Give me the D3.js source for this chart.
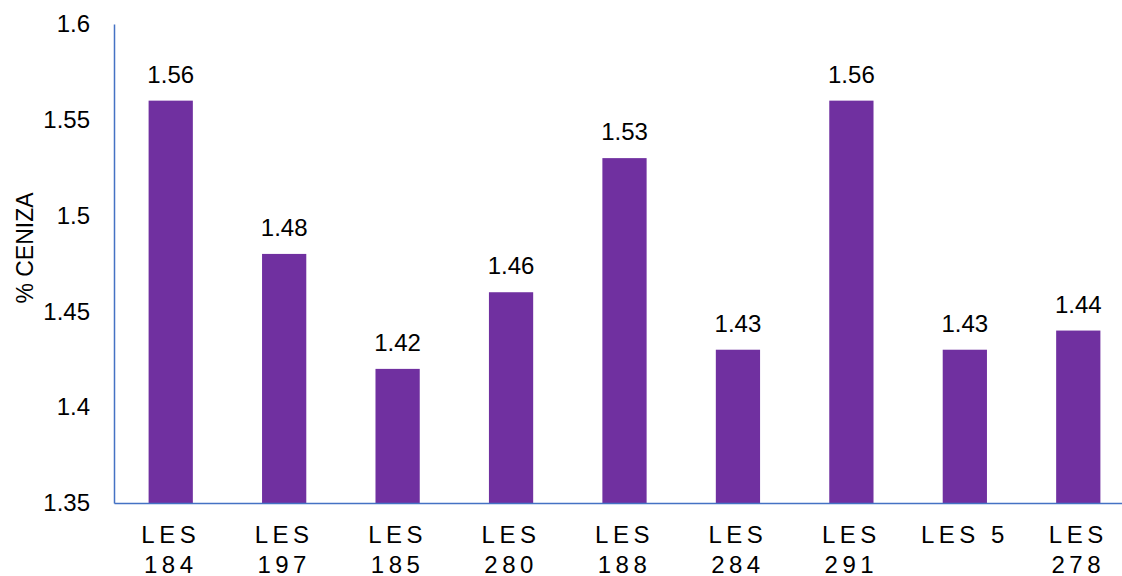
<!DOCTYPE html>
<html>
<head>
<meta charset="utf-8">
<script src="https://cdn.jsdelivr.net/npm/d3@7"></script>
<style>
  html, body { margin: 0; padding: 0; background: #fff; }
  svg { display: block; font-family: "Liberation Sans", Arial, sans-serif; }
</style>
</head>
<body>
<svg id="chart" width="1122" height="576"></svg>
<script>
// Ash content per line
const categories = ["LES 184", "LES 197", "LES 185", "LES 280", "LES 188", "LES 284", "LES 291", "LES 5", "LES 278"];
const ashValues = [1.56, 1.48, 1.42, 1.46, 1.53, 1.43, 1.56, 1.43, 1.44];
const yTicks = [1.35, 1.4, 1.45, 1.5, 1.55, 1.6];
const yTitle = "% CENIZA";

const FONT = "Liberation Sans, Arial, sans-serif";
const svg = d3.select("#chart");
const margin = { top: 24, right: -13, bottom: 73, left: 114 };
const width = 1122 - margin.left - margin.right;
const height = 576 - margin.top - margin.bottom;

const g = svg.append("g").attr("transform", `translate(${margin.left},${margin.top})`);

const x = d3.scaleBand().domain(categories).range([0, width]).paddingInner(0.61).paddingOuter(0.305);
const y = d3.scaleLinear().domain([1.35, 1.6]).range([height, 0]);

// Bars
g.selectAll("rect.bar")
  .data(categories)
  .join("rect")
  .attr("class", "bar")
  .attr("x", d => x(d))
  .attr("width", x.bandwidth())
  .attr("y", (d, i) => y(ashValues[i]))
  .attr("height", (d, i) => y(1.35) - y(ashValues[i]))
  .attr("fill", "#7030a0");

// Value labels
g.selectAll("text.val")
  .data(categories)
  .join("text")
  .attr("class", "val")
  .attr("x", d => x(d) + x.bandwidth() / 2)
  .attr("y", (d, i) => y(ashValues[i]) - 18)
  .attr("text-anchor", "middle")
  .attr("font-size", 24)
  .attr("font-family", FONT)
  .attr("fill", "#000")
  .text((d, i) => ashValues[i].toFixed(2));

// Y axis
const yAxis = g.append("g")
  .call(d3.axisLeft(y).tickValues(yTicks).tickSize(0).tickPadding(24)
    .tickFormat(d => String(+d.toFixed(2))));
yAxis.select(".domain").attr("stroke", "#4472c4").attr("stroke-width", 1.5);
yAxis.selectAll("text").attr("font-size", 24).attr("fill", "#000").attr("font-family", FONT);

// X axis
const xAxis = g.append("g")
  .attr("transform", `translate(0,${height})`)
  .call(d3.axisBottom(x).tickSize(0).tickPadding(0));
xAxis.select(".domain").attr("stroke", "#4472c4").attr("stroke-width", 1.5);
xAxis.selectAll(".tick text").remove();

// Category labels, letter-spaced and wrapped to fit the band
const labelSpacing = 4.5;
xAxis.selectAll(".tick").each(function(d) {
  const t = d3.select(this).append("text")
    .attr("text-anchor", "middle")
    .attr("font-size", 24)
    .attr("fill", "#000")
    .attr("letter-spacing", labelSpacing)
    .attr("font-family", FONT);
  const probe = t.text(d).node().getComputedTextLength();
  t.text(null);
  const lines = probe > x.step() * 0.9 ? d.split(" ") : [d];
  lines.forEach((w, i) => {
    t.append("tspan")
      .attr("x", 0)
      .attr("y", 40 + i * 30)
      .text(w);
  });
});

// Y axis title
svg.append("text")
  .attr("transform", "translate(33,248) rotate(-90)")
  .attr("text-anchor", "middle")
  .attr("font-size", 23)
  .attr("font-family", FONT)
  .attr("fill", "#000")
  .text(yTitle);
</script>
</body>
</html>
